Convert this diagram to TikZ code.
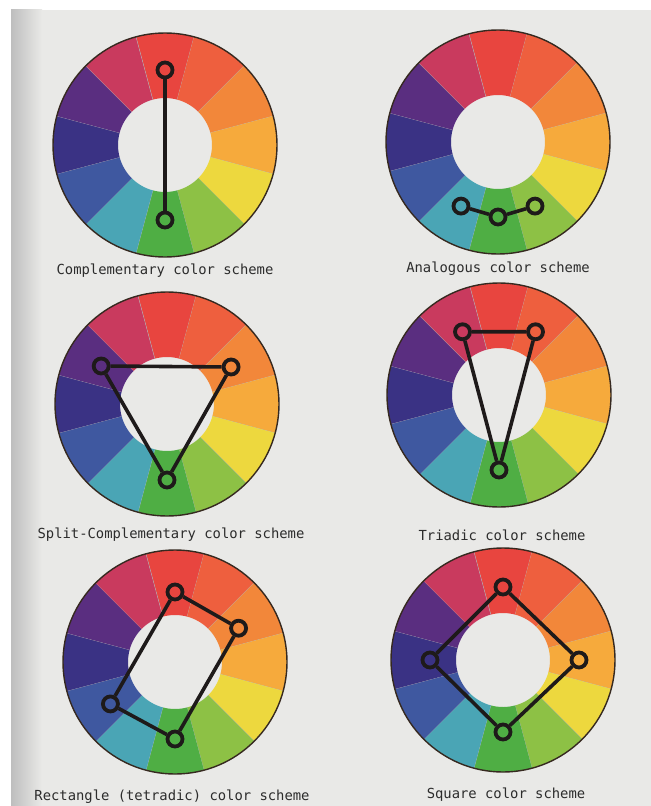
\documentclass[tikz,border=0pt]{standalone}
\usepackage{fontspec}
\setmonofont{DejaVu Sans Mono}
\usepackage{xcolor}
\usepackage{tikz}
\usetikzlibrary{calc}
\definecolor{cPage}{HTML}{E9E9E7}
\definecolor{cEdge}{HTML}{BEBEBE}
\definecolor{cInk}{HTML}{1E1A1A}
\definecolor{cText}{HTML}{2C2C2C}
\definecolor{cRed}{HTML}{E8453F}
\definecolor{cRedOr}{HTML}{EE5F3E}
\definecolor{cOrange}{HTML}{F2873A}
\definecolor{cYelOr}{HTML}{F6AA3C}
\definecolor{cYellow}{HTML}{EDD83E}
\definecolor{cYelGr}{HTML}{8DC145}
\definecolor{cGreen}{HTML}{4FAE44}
\definecolor{cBlueGr}{HTML}{4AA5B5}
\definecolor{cBlue}{HTML}{3F58A0}
\definecolor{cBlueVi}{HTML}{3A3284}
\definecolor{cViolet}{HTML}{5A2E80}
\definecolor{cRedVi}{HTML}{C93A5E}
\tikzset{
  rim/.style     = {draw=cInk!85!brown, line width=1.4bp},
  seam/.style    = {draw=black!30, line width=0.4bp},
  ring/.style    = {circle, draw=cInk, line width=3.8bp, inner sep=0pt,
                    minimum size=15bp},
  link/.style    = {draw=cInk, line width=3.6bp},
  caption/.style = {font=\ttfamily\fontsize{13.9}{16}\selectfont, text=cText},
  wheel/.pic = {
    \foreach \hue/\mid in {cRed/90, cRedOr/60, cOrange/30, cYelOr/0,
        cYellow/-30, cYelGr/-60, cGreen/-90, cBlueGr/-120, cBlue/-150,
        cBlueVi/-180, cViolet/-210, cRedVi/-240}{
      \fill[\hue] (\mid-15:47) arc[start angle=\mid-15, end angle=\mid+15, radius=47]
        -- (\mid+15:112) arc[start angle=\mid+15, end angle=\mid-15, radius=112] -- cycle;
      \draw[seam] (\mid-15:47) -- (\mid-15:112);
    }
    \draw[rim] (0,0) circle[radius=112];
  },
}

\begin{document}
\begin{tikzpicture}[x=1bp, y=1bp]
  \useasboundingbox (0,0) rectangle (651,-806);
  % page
  \fill[white] (0,0) rectangle (651,-806);
  \fill[cPage] (11,-10) rectangle (651,-806);
  \shade[left color=cEdge, right color=cPage] (11,-10) rectangle (42,-806);

  \coordinate (w1) at (165,-145);
  \coordinate (w2) at (498,-142);
  \coordinate (w3) at (167,-404);
  \coordinate (w4) at (499,-395);
  \coordinate (w5) at (175,-662);
  \coordinate (w6) at (503,-660);
  \foreach \w in {w1,w2,w3,w4,w5,w6} \pic at (\w) {wheel};

  % complementary
  \node[ring] (w1t) at ($(w1)+(90:75)$) {};
  \node[ring] (w1b) at ($(w1)+(270:75)$) {};
  \draw[link] (w1t) -- (w1b);
  \node[caption] (l1) at (165,-271) {Complementary color scheme};

  % analogous
  \node[ring] (w2a) at ($(w2)+(-120:74)$) {};
  \node[ring] (w2b) at ($(w2)+(-90:75)$) {};
  \node[ring] (w2c) at ($(w2)+(-60:74)$) {};
  \draw[link] (w2a) -- (w2b) -- (w2c);
  \node[caption] (l2) at (498,-269) {Analogous color scheme};

  % split-complementary
  \node[ring] (w3l) at ($(w3)+(150:76)$) {};
  \node[ring] (w3r) at ($(w3)+(30:74)$) {};
  \node[ring] (w3b) at ($(w3)+(270:76)$) {};
  \draw[link] (w3l) -- (w3r) -- (w3b) -- (w3l);
  \node[caption] (l3) at (171,-535) {Split-Complementary color scheme};

  % triadic
  \node[ring] (w4l) at ($(w4)+(120:73)$) {};
  \node[ring] (w4r) at ($(w4)+(60:73)$) {};
  \node[ring] (w4b) at ($(w4)+(270:75)$) {};
  \draw[link] (w4l) -- (w4r) -- (w4b) -- (w4l);
  \node[caption] (l4) at (502,-535) {Triadic color scheme};

  % rectangle
  \node[ring] (w5t) at ($(w5)+(90:70)$) {};
  \node[ring] (w5r) at ($(w5)+(28:72)$) {};
  \node[ring] (w5b) at ($(w5)+(270:77)$) {};
  \node[ring] (w5l) at ($(w5)+(213:77)$) {};
  \draw[link] (w5t) -- (w5r) -- (w5b) -- (w5l) -- (w5t);
  \node[caption] (l5) at (172,-797) {Rectangle (tetradic) color scheme};

  % square
  \node[ring] (w6t) at ($(w6)+(90:73)$) {};
  \node[ring] (w6r) at ($(w6)+(0:76)$) {};
  \node[ring] (w6b) at ($(w6)+(270:72)$) {};
  \node[ring] (w6l) at ($(w6)+(180:73)$) {};
  \draw[link] (w6t) -- (w6r) -- (w6b) -- (w6l) -- (w6t);
  \node[caption] (l6) at (506,-795) {Square color scheme};
\end{tikzpicture}
\end{document}
